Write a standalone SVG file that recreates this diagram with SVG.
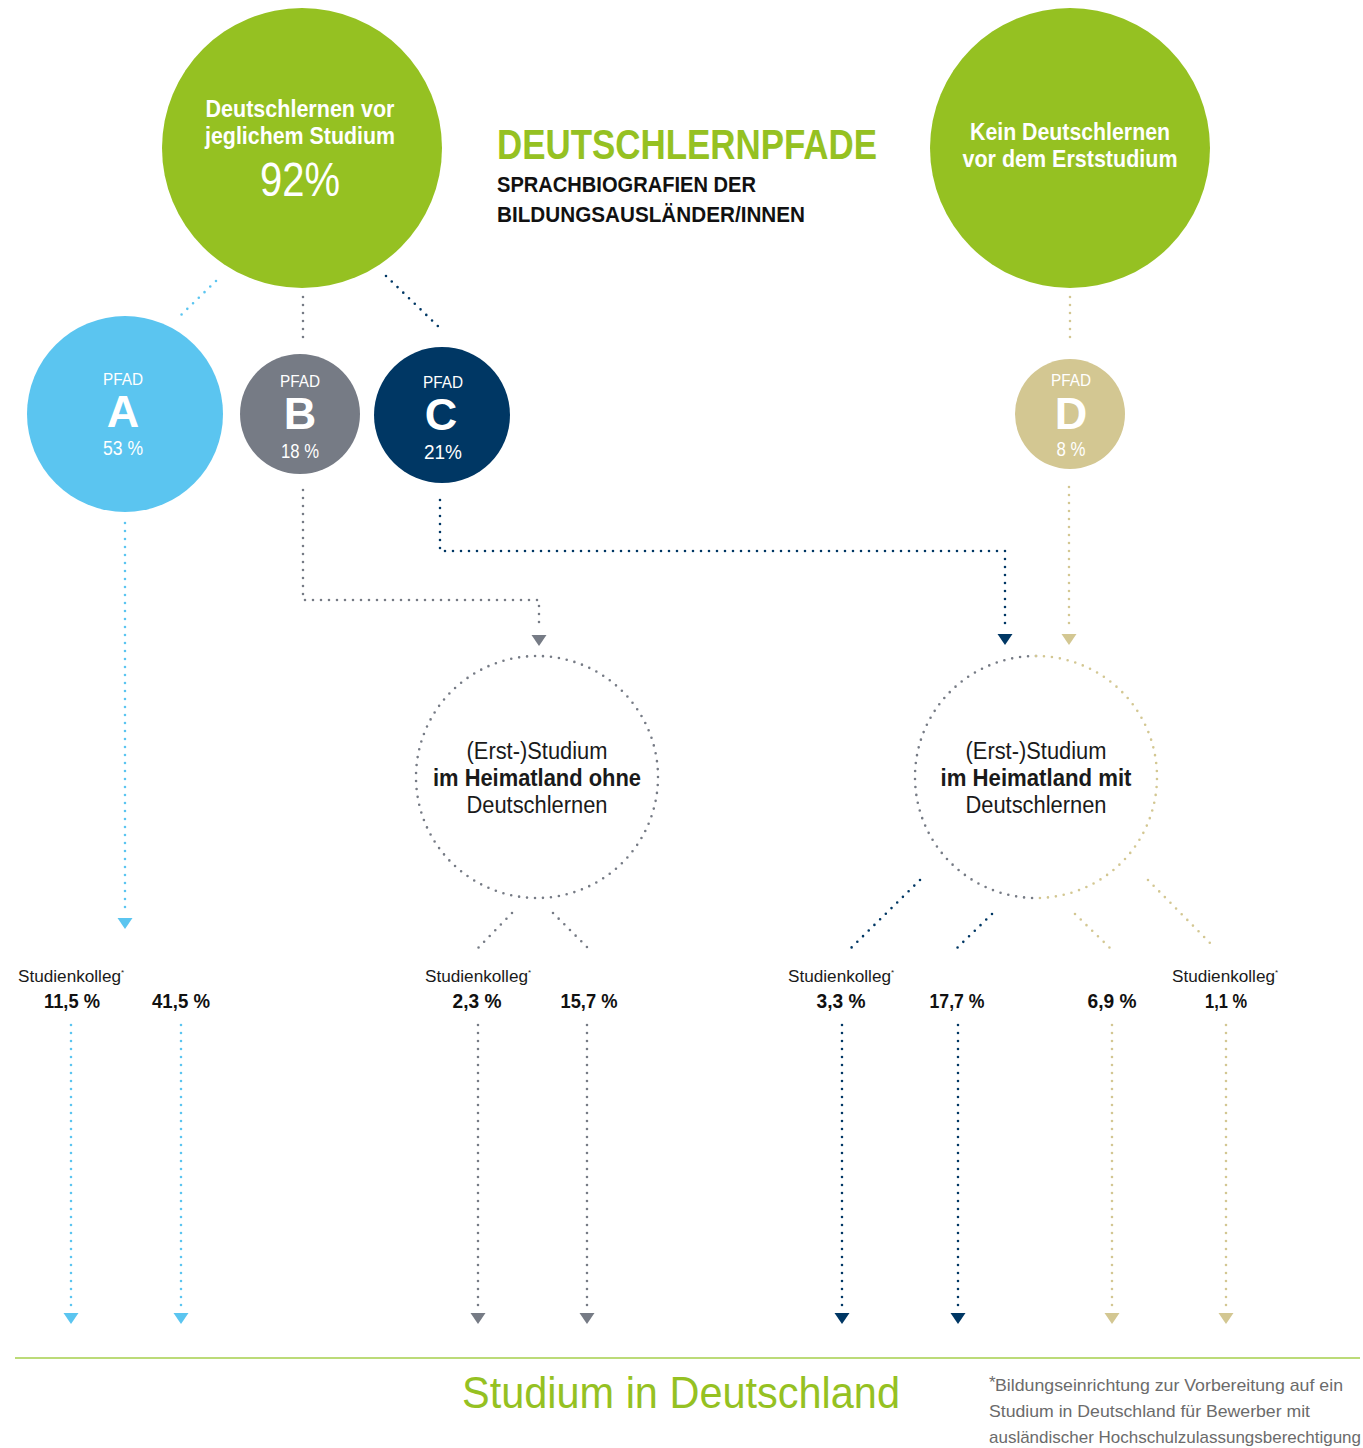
<svg xmlns="http://www.w3.org/2000/svg" width="1363" height="1448" viewBox="0 0 1363 1448">
<defs>
<style>
.t{font-family:"Liberation Sans",Arial,sans-serif}
.w{fill:#fff}
.b{font-weight:bold}
.dot{fill:none;stroke-width:2.6;stroke-linecap:round;stroke-dasharray:0 8}
.cA{stroke:#5bc5f0}.cB{stroke:#767b85}.cC{stroke:#003764}.cD{stroke:#d3c792}
.lbl{font-size:16px;fill:#1a1a1a}
.pct{font-size:21px;font-weight:bold;fill:#111}
.mid{font-size:23px;fill:#1a1a1a}
.fn{font-size:17px;fill:#6b6b6b}
</style>
</defs>

<g id="title">
<text class="t b" x="497" y="159" font-size="42" fill="#95c122" textLength="380" lengthAdjust="spacingAndGlyphs">DEUTSCHLERNPFADE</text>
<text class="t b" x="497" y="192" font-size="22.5" fill="#111" textLength="259" lengthAdjust="spacingAndGlyphs">SPRACHBIOGRAFIEN DER</text>
<text class="t b" x="497" y="222" font-size="22.5" fill="#111" textLength="308" lengthAdjust="spacingAndGlyphs">BILDUNGSAUSLÄNDER/INNEN</text>
</g>

<g id="connectors">
<path class="dot cA" d="M216 281L181 315"/>
<path class="dot cB" d="M303 297V338"/>
<path class="dot cC" d="M386 276L443 331"/>
<path class="dot cD" d="M1070 297V345"/>
<path class="dot cA" d="M125 523V914"/>
<path class="dot cB" d="M303 490V600H539V630"/>
<path class="dot cC" d="M440 500V551H1005V630"/>
<path class="dot cD" d="M1069 487V630"/>
<path class="dot cB" d="M512 913L478 948"/>
<path class="dot cB" d="M553 913L588 948"/>
<path class="dot cC" d="M920 880L851 948"/>
<path class="dot cC" d="M992 914L957 948"/>
<path class="dot cD" d="M1075 914L1110 948"/>
<path class="dot cD" d="M1148 880L1215 948"/>
<path class="dot cA" d="M71 1025V1310"/>
<path class="dot cA" d="M181 1025V1310"/>
<path class="dot cB" d="M478 1025V1310"/>
<path class="dot cB" d="M587 1025V1310"/>
<path class="dot cC" d="M842 1025V1310"/>
<path class="dot cC" d="M958 1025V1310"/>
<path class="dot cD" d="M1112 1025V1310"/>
<path class="dot cD" d="M1226 1025V1310"/>
<g id="arrowheads">
<path d="M117.5 918H132.5L125 929Z" fill="#5bc5f0"/>
<path d="M531.5 635H546.5L539 646Z" fill="#767b85"/>
<path d="M997.5 634H1012.5L1005 645Z" fill="#003764"/>
<path d="M1061.5 634H1076.5L1069 645Z" fill="#d3c792"/>
<path d="M63.5 1313H78.5L71 1324Z" fill="#5bc5f0"/>
<path d="M173.5 1313H188.5L181 1324Z" fill="#5bc5f0"/>
<path d="M470.5 1313H485.5L478 1324Z" fill="#767b85"/>
<path d="M579.5 1313H594.5L587 1324Z" fill="#767b85"/>
<path d="M834.5 1313H849.5L842 1324Z" fill="#003764"/>
<path d="M950.5 1313H965.5L958 1324Z" fill="#003764"/>
<path d="M1104.5 1313H1119.5L1112 1324Z" fill="#d3c792"/>
<path d="M1218.5 1313H1233.5L1226 1324Z" fill="#d3c792"/>
</g>
</g>

<g id="node-vor">
<circle cx="302" cy="148" r="140" fill="#95c122"/>
<text class="t b w" x="300" y="117" font-size="24" text-anchor="middle" textLength="189" lengthAdjust="spacingAndGlyphs">Deutschlernen vor</text>
<text class="t b w" x="300" y="144" font-size="24" text-anchor="middle" textLength="190" lengthAdjust="spacingAndGlyphs">jeglichem Studium</text>
<text class="t w" x="300" y="196" font-size="48" text-anchor="middle" textLength="80" lengthAdjust="spacingAndGlyphs">92%</text>
</g>

<g id="node-kein">
<circle cx="1070" cy="148" r="140" fill="#95c122"/>
<text class="t b w" x="1070" y="140" font-size="24" text-anchor="middle" textLength="200" lengthAdjust="spacingAndGlyphs">Kein Deutschlernen</text>
<text class="t b w" x="1070" y="167" font-size="24" text-anchor="middle" textLength="215" lengthAdjust="spacingAndGlyphs">vor dem Erststudium</text>
</g>

<g id="node-A">
<circle cx="125" cy="414" r="98" fill="#5bc5f0"/>
<text class="t w" x="123" y="385" font-size="16" text-anchor="middle" textLength="40" lengthAdjust="spacingAndGlyphs">PFAD</text>
<text class="t b w" x="123" y="427" font-size="45" text-anchor="middle">A</text>
<text class="t w" x="123" y="455" font-size="20" text-anchor="middle" textLength="40" lengthAdjust="spacingAndGlyphs">53 %</text>
</g>
<g id="node-B">
<circle cx="300" cy="414" r="60" fill="#767b85"/>
<text class="t w" x="300" y="387" font-size="16" text-anchor="middle" textLength="40" lengthAdjust="spacingAndGlyphs">PFAD</text>
<text class="t b w" x="300" y="429" font-size="45" text-anchor="middle">B</text>
<text class="t w" x="300" y="458" font-size="20" text-anchor="middle" textLength="38" lengthAdjust="spacingAndGlyphs">18 %</text>
</g>
<g id="node-C">
<circle cx="442" cy="415" r="68" fill="#003764"/>
<text class="t w" x="443" y="388" font-size="16" text-anchor="middle" textLength="40" lengthAdjust="spacingAndGlyphs">PFAD</text>
<text class="t b w" x="441" y="430" font-size="45" text-anchor="middle">C</text>
<text class="t w" x="443" y="459" font-size="20" text-anchor="middle" textLength="38" lengthAdjust="spacingAndGlyphs">21%</text>
</g>
<g id="node-D">
<circle cx="1070" cy="414" r="55" fill="#d3c792"/>
<text class="t w" x="1071" y="386" font-size="16" text-anchor="middle" textLength="40" lengthAdjust="spacingAndGlyphs">PFAD</text>
<text class="t b w" x="1071" y="429" font-size="45" text-anchor="middle">D</text>
<text class="t w" x="1071" y="456" font-size="20" text-anchor="middle" textLength="29" lengthAdjust="spacingAndGlyphs">8 %</text>
</g>

<g id="node-ohne">
<circle class="dot cB" cx="537" cy="777" r="121"/>
<text class="t mid" x="537" y="759" text-anchor="middle" textLength="141" lengthAdjust="spacingAndGlyphs">(Erst-)Studium</text>
<text class="t mid b" x="537" y="786" text-anchor="middle" fill="#111" textLength="208" lengthAdjust="spacingAndGlyphs">im Heimatland ohne</text>
<text class="t mid" x="537" y="813" text-anchor="middle" textLength="141" lengthAdjust="spacingAndGlyphs">Deutschlernen</text>
</g>

<g id="node-mit">
<path class="dot cB" d="M1036 656A121 121 0 0 0 1036 898"/>
<path class="dot cD" d="M1036 656A121 121 0 0 1 1036 898"/>
<text class="t mid" x="1036" y="759" text-anchor="middle" textLength="141" lengthAdjust="spacingAndGlyphs">(Erst-)Studium</text>
<text class="t mid b" x="1036" y="786" text-anchor="middle" fill="#111" textLength="191" lengthAdjust="spacingAndGlyphs">im Heimatland mit</text>
<text class="t mid" x="1036" y="813" text-anchor="middle" textLength="141" lengthAdjust="spacingAndGlyphs">Deutschlernen</text>
</g>

<g id="labels">
<text class="t lbl" x="18" y="982"><tspan textLength="103" lengthAdjust="spacingAndGlyphs">Studienkolleg</tspan><tspan font-size="8" dy="-7">*</tspan></text>
<text class="t pct" x="72" y="1008" text-anchor="middle" textLength="56" lengthAdjust="spacingAndGlyphs">11,5 %</text>
<text class="t pct" x="181" y="1008" text-anchor="middle" textLength="58" lengthAdjust="spacingAndGlyphs">41,5 %</text>
<text class="t lbl" x="425" y="982"><tspan textLength="103" lengthAdjust="spacingAndGlyphs">Studienkolleg</tspan><tspan font-size="8" dy="-7">*</tspan></text>
<text class="t pct" x="477" y="1008" text-anchor="middle" textLength="49" lengthAdjust="spacingAndGlyphs">2,3 %</text>
<text class="t pct" x="589" y="1008" text-anchor="middle" textLength="57" lengthAdjust="spacingAndGlyphs">15,7 %</text>
<text class="t lbl" x="788" y="982"><tspan textLength="103" lengthAdjust="spacingAndGlyphs">Studienkolleg</tspan><tspan font-size="8" dy="-7">*</tspan></text>
<text class="t pct" x="841" y="1008" text-anchor="middle" textLength="49" lengthAdjust="spacingAndGlyphs">3,3 %</text>
<text class="t pct" x="957" y="1008" text-anchor="middle" textLength="55" lengthAdjust="spacingAndGlyphs">17,7 %</text>
<text class="t pct" x="1112" y="1008" text-anchor="middle" textLength="49" lengthAdjust="spacingAndGlyphs">6,9 %</text>
<text class="t lbl" x="1172" y="982"><tspan textLength="103" lengthAdjust="spacingAndGlyphs">Studienkolleg</tspan><tspan font-size="8" dy="-7">*</tspan></text>
<text class="t pct" x="1226" y="1008" text-anchor="middle" textLength="42" lengthAdjust="spacingAndGlyphs">1,1 %</text>
</g>

<g id="footer">
<line x1="15" y1="1358" x2="1360" y2="1358" stroke="#a6cf4b" stroke-width="1.5"/>
<text class="t" x="462" y="1408" font-size="44" fill="#95c122" textLength="438" lengthAdjust="spacingAndGlyphs">Studium in Deutschland</text>
<text class="t fn" x="989" y="1388" font-size="8">*</text>
<text class="t fn" x="995" y="1391" textLength="348" lengthAdjust="spacingAndGlyphs">Bildungseinrichtung zur Vorbereitung auf ein</text>
<text class="t fn" x="989" y="1417" textLength="321" lengthAdjust="spacingAndGlyphs">Studium in Deutschland für Bewerber mit</text>
<text class="t fn" x="989" y="1443" textLength="372" lengthAdjust="spacingAndGlyphs">ausländischer Hochschulzulassungsberechtigung</text>
</g>
</svg>
